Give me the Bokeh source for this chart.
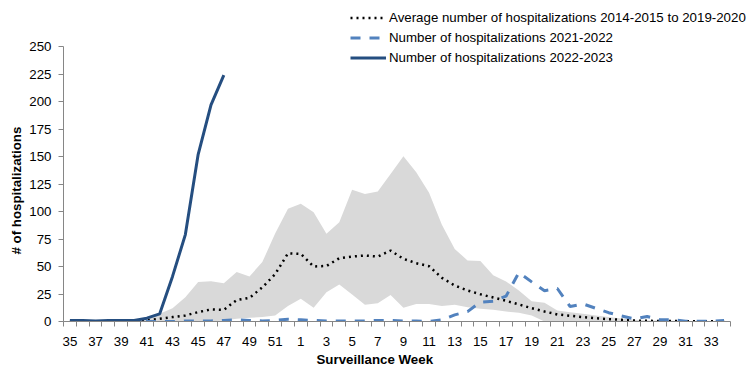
from bokeh.plotting import figure
from bokeh.models import Range1d, FixedTicker, Legend, LegendItem, Title
from bokeh.embed import file_html
from bokeh.resources import INLINE

weeks = list(range(35, 53)) + list(range(1, 35))

avg = [0, 0, 0, 0, 0, 0.5, 1, 2.5, 4, 5.5, 8.5, 11, 10.6, 19.5, 21.5, 31, 43, 62,
       61.5, 50, 50.5, 57.5, 59, 60, 59, 64.5, 57, 53, 50.3, 39.7, 32.7, 28.2, 24.8,
       21.8, 18.8, 15.5, 12.1, 9.1, 6.4, 5.2, 4, 3, 2.1, 1.5, 0.9, 0.6, 0.5, 0.4,
       0.3, 0.3, 0.3, 0.3]

band_high = [0, 0, 0, 0, 0.5, 0.5, 2, 7, 12, 22, 35.8, 36.7, 34.8, 45, 41, 54, 80,
             102.4, 107, 99.4, 79.7, 90.3, 119.7, 116, 118.2, 134.2, 150.3, 135.7,
             117, 88, 66, 55.5, 55, 42, 36.4, 28.2, 18.5, 17, 10, 8.5, 7, 5.5, 4,
             2.7, 1.5, 1, 0.8, 0.6, 0.5, 0.5, 0.5, 0.5]

band_low = [0, 0, 0, 0, 0, 0, 0, 0, 0, 0, 0, 0, 1, 2.4, 3.3, 4, 5.5, 14, 20.6, 12.4,
            26.7, 33.6, 24.5, 15.2, 16.7, 24.2, 12.4, 16, 16, 14, 15.2, 13, 11.5,
            10.6, 9.1, 7.9, 5.5, 0, 0, 0, 0, 0, 0, 0, 0, 0, 0, 0, 0, 0, 0, 0]

hosp_2021_2022 = [0, 0, 0, 0, 0, 0, 0, 0, 0, 0.5, 0.5, 0.5, 1, 1.5, 1, 0.5, 1, 2,
                  1.5, 1, 0.5, 0.5, 0.5, 0.5, 1, 1, 0.5, 0.5, 0, 1.5, 6, 9, 17.6,
                  18.5, 23, 44.5, 36, 28, 30, 13.6, 16, 12, 8, 5, 2.4, 4.5, 1.5,
                  1.5, 0.3, 0.3, 0.3, 1]

hosp_2022_2023 = [1, 1, 0.5, 1, 1, 1, 3, 7, 41, 79, 152, 197, 224]

y_ticks = [0, 25, 50, 75, 100, 125, 150, 175, 200, 225, 250]
y_max = 250

x = list(range(len(weeks)))
n = len(weeks)

FONT = "Liberation Sans"
FS = "13.3px"

# frame: x from 63 to 748 px, y from 0 to 321 px; axis spans 63..730 and 46..321
W, H = 756, 378
left, right_px, bottom_px = 63, 748, 321
px_per_cat = (730 - left) / n
px_per_unit = (bottom_px - 46) / y_max

p = figure(width=W, height=H, output_backend="svg", toolbar_location=None,
           x_range=Range1d(-0.5, -0.5 + (right_px - left) / px_per_cat),
           y_range=Range1d(0, bottom_px / px_per_unit),
           min_border_left=left, min_border_right=W - right_px, min_border_top=0,
           min_border_bottom=H - bottom_px)
p.outline_line_color = None
p.grid.visible = False
p.background_fill_color = "white"
p.border_fill_color = "white"

p.varea(x=x, y1=band_low, y2=band_high, fill_color="#D9D9D9")
r_avg = p.line(x, avg, line_color="black", line_width=2.5, line_dash="2 4")
r_21 = p.line(x, hosp_2021_2022, line_color="#5282BE", line_width=3,
              line_dash="10 9")
r_22 = p.line(x[:len(hosp_2022_2023)], hosp_2022_2023, line_color="#254E80",
              line_width=3)

# x axis
xa = p.xaxis[0]
xa.bounds = (-0.5, n - 0.5)
xa.ticker = FixedTicker(ticks=x[::2], minor_ticks=[i - 0.5 for i in range(n + 1)])
xa.major_label_overrides = {i: str(weeks[i]) for i in x[::2]}
xa.major_tick_out = 0
xa.major_tick_in = 0
xa.minor_tick_out = 5
xa.minor_tick_in = 0
xa.axis_line_color = "#868686"
xa.minor_tick_line_color = "#868686"
xa.major_label_text_font = FONT
xa.major_label_text_font_size = FS
xa.major_label_text_color = "black"
xa.major_label_standoff = 10

# y axis
ya = p.yaxis[0]
ya.bounds = (0, y_max)
ya.ticker = FixedTicker(ticks=y_ticks, minor_ticks=[])
ya.major_tick_out = 5
ya.major_tick_in = 0
ya.axis_line_color = "#868686"
ya.major_tick_line_color = "#868686"
ya.major_label_text_font = FONT
ya.major_label_text_font_size = FS
ya.major_label_text_color = "black"
ya.major_label_standoff = 7

p.add_layout(Title(text="# of hospitalizations", align="left", offset=67,
                   text_font=FONT, text_font_size=FS, text_font_style="bold",
                   text_color="black", standoff=5), "left")

p.add_layout(Title(text="Surveillance Week", align="left", offset=253,
                   text_font=FONT, text_font_size=FS, text_font_style="bold",
                   text_color="black", standoff=3), "below")

legend = Legend(items=[
    LegendItem(label="Average number of hospitalizations 2014-2015 to 2019-2020", renderers=[r_avg]),
    LegendItem(label="Number of hospitalizations 2021-2022", renderers=[r_21]),
    LegendItem(label="Number of hospitalizations 2022-2023", renderers=[r_22]),
], location=(287, 254.5))
legend.label_text_font = FONT
legend.label_text_font_size = FS
legend.label_text_color = "black"
legend.glyph_width = 36
legend.glyph_height = 19
legend.label_height = 19
legend.spacing = 1
legend.padding = 0
legend.margin = 0
legend.label_standoff = 3
legend.border_line_color = None
legend.background_fill_alpha = 0
p.add_layout(legend)

open("out.html", "w").write(file_html(p, INLINE))
